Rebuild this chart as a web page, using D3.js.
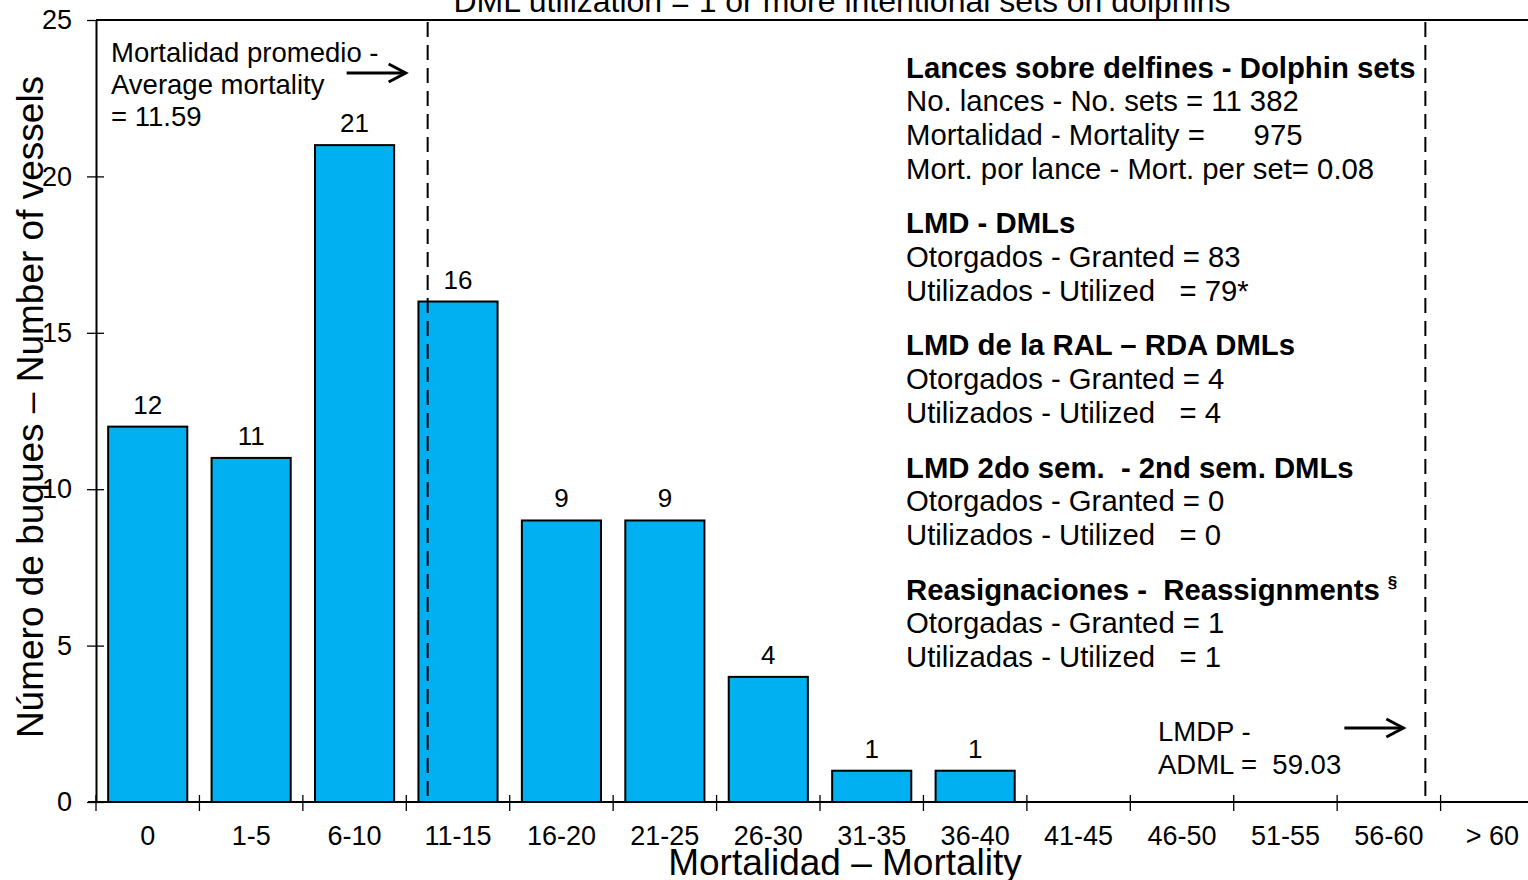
<!DOCTYPE html>
<html><head><meta charset="utf-8">
<script src="https://cdn.jsdelivr.net/npm/d3@7"></script>
<style>
html,body{margin:0;padding:0;background:#fff;}
svg{display:block;font-family:"Liberation Sans",Arial,sans-serif;}
text{white-space:pre;}
</style></head>
<body>
<svg id="c" width="1528" height="880"></svg>
<script>
const categories = ["0","1-5","6-10","11-15","16-20","21-25","26-30","31-35","36-40","41-45","46-50","51-55","56-60","> 60"];
const vessels = [12,11,21,16,9,9,4,1,1,0,0,0,0,0];
const yTicks = [0,5,10,15,20,25];
const avgMortality = 11.59;
const adml = 59.03;
const chartTitle = "DML utilization = 1 or more intentional sets on dolphins";
const xTitle = "Mortalidad – Mortality";
const yTitle = "Número de buques – Number of vessels";
const avgLabel = ["Mortalidad promedio -","Average mortality","= 11.59"];
const admlLabel = ["LMDP -","ADML =  59.03"];
const infoLines = [
  {t:"Lances sobre delfines - Dolphin sets", b:true, gap:0},
  {t:"No. lances - No. sets = 11 382", b:false, gap:0},
  {t:"Mortalidad - Mortality =      975", b:false, gap:0},
  {t:"Mort. por lance - Mort. per set= 0.08", b:false, gap:0},
  {t:"LMD - DMLs", b:true, gap:1},
  {t:"Otorgados - Granted = 83", b:false, gap:0},
  {t:"Utilizados - Utilized   = 79*", b:false, gap:0},
  {t:"LMD de la RAL – RDA DMLs", b:true, gap:1},
  {t:"Otorgados - Granted = 4", b:false, gap:0},
  {t:"Utilizados - Utilized   = 4", b:false, gap:0},
  {t:"LMD 2do sem.  - 2nd sem. DMLs", b:true, gap:1},
  {t:"Otorgados - Granted = 0", b:false, gap:0},
  {t:"Utilizados - Utilized   = 0", b:false, gap:0},
  {t:"Reasignaciones -  Reassignments", b:true, gap:1, sup:"§"},
  {t:"Otorgadas - Granted = 1", b:false, gap:0},
  {t:"Utilizadas - Utilized   = 1", b:false, gap:0}
];

const svg = d3.select("#c");
const mLeft = 96, mTop = 20, mBottom = 802;
const step = 103.43;
const mRight = mLeft + step * categories.length;

const x = d3.scaleBand().domain(categories).range([mLeft, mRight]).paddingInner(0.235).paddingOuter(0.1175);
const y = d3.scaleLinear().domain([0,25]).range([mBottom, mTop]);
const mortX = d3.scaleLinear().domain([0,60]).range([mLeft + step*0.85, mLeft + step*13.05]);

// frame top line
svg.append("line").attr("x1",mLeft).attr("x2",1528).attr("y1",y(25)).attr("y2",y(25)).attr("stroke","#000").attr("stroke-width",2);

const barData = vessels.map((v,i)=>({c:categories[i],v}));
// bars
svg.selectAll("rect.bar").data(barData.filter(d=>d.v>0)).join("rect")
  .attr("class","bar")
  .attr("x",d=>x(d.c)).attr("width",x.bandwidth())
  .attr("y",d=>y(d.v)).attr("height",d=>y(0)-y(d.v))
  .attr("fill","#00B0F0").attr("stroke","#000").attr("stroke-width",2);

// bar labels
svg.selectAll("text.vl").data(barData.filter(d=>d.v>0)).join("text")
  .attr("class","vl")
  .attr("x",d=>x(d.c)+x.bandwidth()/2).attr("y",d=>y(d.v)-13)
  .attr("text-anchor","middle").attr("font-size",26).attr("fill","#000")
  .text(d=>d.v);

// y axis
const yAxis = d3.axisLeft(y).tickValues(yTicks).tickSize(0).tickPadding(24);
const gy = svg.append("g").attr("transform",`translate(${mLeft},0)`).call(yAxis);
gy.select(".domain").attr("stroke","#000").attr("stroke-width",2);
gy.selectAll("text").attr("font-size",27).attr("fill","#000").attr("font-family","Liberation Sans, Arial, sans-serif");
gy.selectAll(".tick").append("line").attr("x1",-9).attr("x2",d=>d===25?0:8).attr("stroke","#000").attr("stroke-width",1.3);

// x axis
const xb = d3.scaleLinear().domain([0,categories.length]).range([mLeft,mRight]);
svg.append("line").attr("x1",mLeft-8).attr("x2",1528).attr("y1",mBottom).attr("y2",mBottom).attr("stroke","#000").attr("stroke-width",2);
svg.selectAll("line.xt").data(d3.range(categories.length+1)).join("line").attr("class","xt")
  .attr("x1",d=>xb(d)).attr("x2",d=>xb(d)).attr("y1",mBottom-7).attr("y2",mBottom+9)
  .attr("stroke","#000").attr("stroke-width",1.3);
svg.selectAll("text.xl").data(categories).join("text").attr("class","xl")
  .attr("x",d=>x(d)+x.bandwidth()/2).attr("y",mBottom+43)
  .attr("text-anchor","middle").attr("font-size",27).attr("fill","#000").text(d=>d);

// axis titles
svg.append("text").attr("x",845).attr("y",875).attr("text-anchor","middle").attr("font-size",37).attr("fill","#000").text(xTitle);
svg.append("text").attr("transform",`translate(43,${407}) rotate(-90)`).attr("text-anchor","middle").attr("font-size",37).attr("fill","#000").text(yTitle);

// title
svg.append("text").attr("x",842).attr("y",12).attr("text-anchor","middle").attr("font-size",32).attr("fill","#000").text(chartTitle);

// dashed lines
[avgMortality, adml].forEach(v=>{
  svg.append("line").attr("x1",mortX(v)).attr("x2",mortX(v)).attr("y1",mTop+2).attr("y2",mBottom)
    .attr("stroke","#000").attr("stroke-width",2).attr("stroke-dasharray","15,8");
});

// arrows
function arrow(x1,x2,yy){
  svg.append("line").attr("x1",x1).attr("x2",x2).attr("y1",yy).attr("y2",yy).attr("stroke","#000").attr("stroke-width",3);
  svg.append("path").attr("d",`M${x2-17},${yy-9}L${x2},${yy}L${x2-17},${yy+9}`).attr("fill","none").attr("stroke","#000").attr("stroke-width",3);
}
arrow(mortX(avgMortality)-81, mortX(avgMortality)-22, 73);
arrow(mortX(adml)-81, mortX(adml)-22, 728);

// annotations
svg.selectAll("text.al").data(avgLabel).join("text").attr("class","al")
  .attr("x",111).attr("y",(d,i)=>62+i*32).attr("font-size",27.5).attr("fill","#000").text(d=>d);
svg.selectAll("text.dl").data(admlLabel).join("text").attr("class","dl")
  .attr("x",1158).attr("y",(d,i)=>741+i*33).attr("font-size",27.5).attr("fill","#000").text(d=>d);

// info block
let yy = 77.5;
infoLines.forEach((l,i)=>{
  if(i>0) yy += 33.7 + (l.gap? 21:0);
  const t = svg.append("text").attr("x",906).attr("y",yy).attr("font-size",29.3).attr("fill","#000")
    .attr("font-weight",l.b?"bold":"normal").text(l.t);
  if(l.sup){
    t.append("tspan").attr("dx",8).attr("dy",-12).attr("font-size",17).text(l.sup);
  }
});
</script>
</body></html>
